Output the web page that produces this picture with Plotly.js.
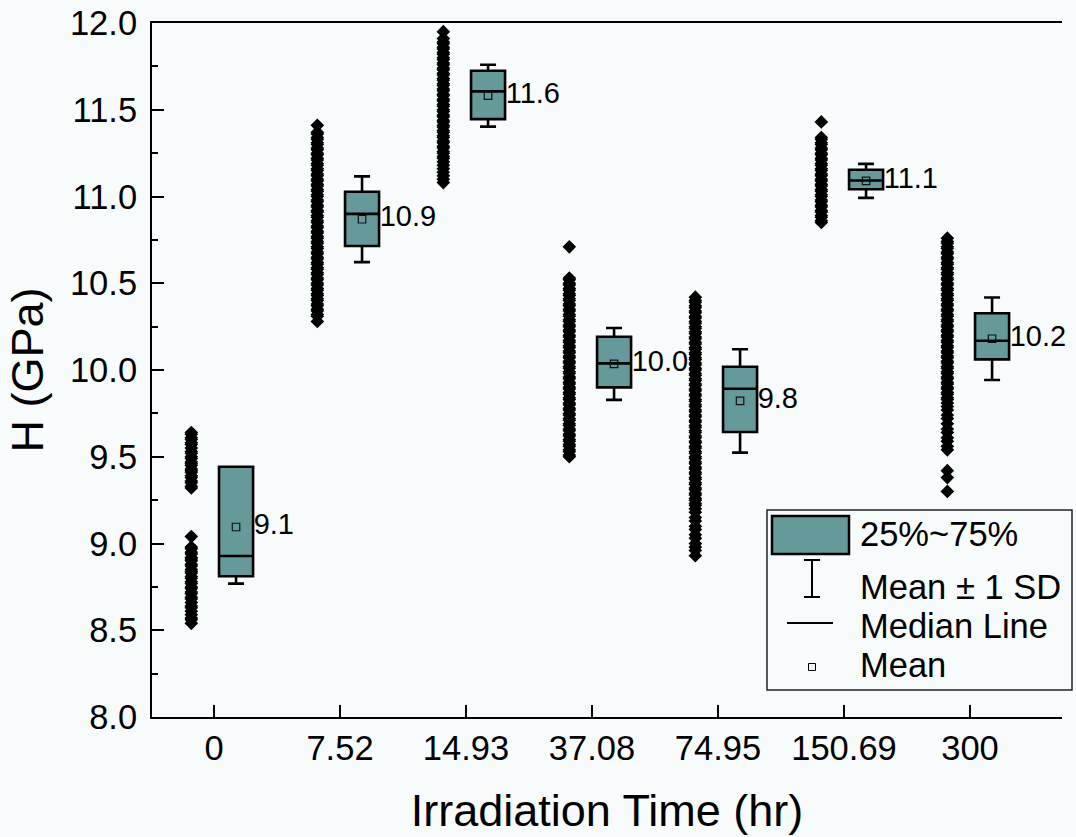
<!DOCTYPE html>
<html><head><meta charset="utf-8">
<script src="https://cdn.plot.ly/plotly-3.0.1.min.js"></script>
<style>html,body{margin:0;padding:0;background:#f8fbfc;overflow:hidden}</style>
</head><body><div id="chart" style="width:1076px;height:837px"></div>
<script>
// ---- data ----
const categories = ['0', '7.52', '14.93', '37.08', '74.95', '150.69', '300'];

const h0 = [9.64, 9.63, 9.61, 9.60, 9.58, 9.57, 9.55, 9.53, 9.52, 9.50, 9.49, 9.47, 9.46, 9.45, 9.43, 9.42, 9.41, 9.39, 9.38, 9.36, 9.35, 9.33, 9.32,
  9.04, 8.98, 8.97, 8.95, 8.94, 8.92, 8.91, 8.90, 8.88, 8.87, 8.85, 8.84, 8.83, 8.81, 8.80, 8.78, 8.77, 8.75, 8.74, 8.72, 8.71, 8.69, 8.68, 8.66, 8.64, 8.63, 8.61, 8.59, 8.57, 8.56, 8.54];
const h1 = [11.41, 11.37, 11.36, 11.34, 11.33, 11.31, 11.30, 11.28, 11.27, 11.25, 11.24, 11.22, 11.21, 11.19, 11.18, 11.16, 11.15, 11.13, 11.12, 11.10, 11.09, 11.07, 11.06, 11.04, 11.03, 11.01, 11.00, 10.98, 10.97, 10.95, 10.94, 10.92, 10.91, 10.89, 10.88, 10.86, 10.85, 10.83, 10.82, 10.80, 10.79, 10.77, 10.76, 10.74, 10.73, 10.71, 10.70, 10.68, 10.67, 10.65, 10.64, 10.62, 10.61, 10.59, 10.58, 10.56, 10.55, 10.53, 10.52, 10.50, 10.49, 10.47, 10.46, 10.44, 10.43, 10.41, 10.40, 10.38, 10.37, 10.35, 10.34, 10.32, 10.31, 10.28];
const h2 = [11.95, 11.91, 11.89, 11.88, 11.86, 11.85, 11.83, 11.82, 11.80, 11.79, 11.77, 11.76, 11.74, 11.73, 11.71, 11.70, 11.68, 11.67, 11.65, 11.64, 11.62, 11.61, 11.59, 11.58, 11.56, 11.55, 11.53, 11.52, 11.50, 11.49, 11.47, 11.46, 11.44, 11.43, 11.41, 11.40, 11.38, 11.37, 11.35, 11.34, 11.32, 11.31, 11.29, 11.28, 11.26, 11.25, 11.23, 11.22, 11.20, 11.18, 11.16, 11.14, 11.12, 11.10, 11.08];
const h3 = [10.71, 10.53, 10.52, 10.50, 10.49, 10.47, 10.46, 10.44, 10.43, 10.41, 10.40, 10.38, 10.37, 10.35, 10.34, 10.32, 10.31, 10.29, 10.28, 10.26, 10.25, 10.23, 10.22, 10.20, 10.19, 10.17, 10.16, 10.14, 10.13, 10.11, 10.10, 10.08, 10.07, 10.05, 10.04, 10.02, 10.01, 9.99, 9.98, 9.96, 9.95, 9.93, 9.92, 9.90, 9.89, 9.87, 9.86, 9.84, 9.83, 9.81, 9.80, 9.78, 9.77, 9.75, 9.74, 9.72, 9.71, 9.69, 9.68, 9.66, 9.65, 9.63, 9.62, 9.60, 9.59, 9.57, 9.56, 9.54, 9.53, 9.51, 9.50];
const h4 = [10.42, 10.40, 10.39, 10.37, 10.36, 10.34, 10.33, 10.31, 10.30, 10.28, 10.27, 10.25, 10.24, 10.22, 10.21, 10.19, 10.18, 10.16, 10.15, 10.13, 10.12, 10.10, 10.09, 10.07, 10.06, 10.04, 10.03, 10.01, 10.00, 9.98, 9.97, 9.95, 9.94, 9.92, 9.91, 9.89, 9.88, 9.86, 9.85, 9.83, 9.82, 9.80, 9.79, 9.77, 9.76, 9.74, 9.73, 9.71, 9.70, 9.68, 9.67, 9.65, 9.64, 9.62, 9.61, 9.59, 9.58, 9.56, 9.55, 9.53, 9.52, 9.50, 9.49, 9.47, 9.46, 9.44, 9.43, 9.41, 9.40, 9.38, 9.37, 9.35, 9.34, 9.32, 9.31, 9.29, 9.28, 9.26, 9.25, 9.23, 9.22, 9.20, 9.18, 9.15, 9.13, 9.10, 9.08, 9.05, 9.03, 9.00, 8.98, 8.96, 8.93];
const h5 = [11.43, 11.34, 11.33, 11.31, 11.30, 11.28, 11.27, 11.25, 11.24, 11.22, 11.21, 11.19, 11.18, 11.16, 11.15, 11.13, 11.12, 11.10, 11.09, 11.07, 11.06, 11.04, 11.03, 11.01, 11.00, 10.98, 10.97, 10.95, 10.94, 10.92, 10.91, 10.89, 10.88, 10.86, 10.85];
const h6 = [10.76, 10.74, 10.73, 10.71, 10.70, 10.68, 10.67, 10.65, 10.64, 10.62, 10.61, 10.59, 10.58, 10.56, 10.55, 10.53, 10.52, 10.50, 10.49, 10.47, 10.46, 10.44, 10.43, 10.41, 10.40, 10.38, 10.37, 10.35, 10.34, 10.32, 10.31, 10.29, 10.28, 10.26, 10.25, 10.23, 10.22, 10.20, 10.19, 10.17, 10.16, 10.14, 10.13, 10.11, 10.10, 10.08, 10.07, 10.05, 10.04, 10.02, 10.01, 9.99, 9.98, 9.96, 9.95, 9.93, 9.92, 9.90, 9.89, 9.87, 9.86, 9.84, 9.83, 9.81, 9.79, 9.77, 9.74, 9.72, 9.69, 9.66, 9.64, 9.61, 9.59, 9.56, 9.54, 9.42, 9.38, 9.30];

const q1 = [8.811, 10.715, 11.446, 9.900, 9.643, 11.042, 10.061];
const median = [8.928, 10.900, 11.606, 10.038, 9.892, 11.092, 10.169];
const q3 = [9.442, 11.027, 11.725, 10.192, 10.019, 11.154, 10.327];
const mean = [9.095, 10.869, 11.581, 10.035, 9.822, 11.090, 10.180];
const sd = [0.326, 0.247, 0.178, 0.207, 0.298, 0.098, 0.238];
const meanLabels = ['9.1', '10.9', '11.6', '10.0', '9.8', '11.1', '10.2'];

const legendLabels = ['25%~75%', 'Mean \u00b1 1 SD', 'Median Line', 'Mean'];

// ---- styling ----
const FONT = 'Liberation Sans, Arial, Helvetica, sans-serif';
const TEAL = '#669999';
const BG = '#f8fbfc';
const PT_OFF = -0.18, BOX_OFF = 0.175, BOX_W = 0.27, LABEL_OFF = 0.14;

const pointSets = [h0, h1, h2, h3, h4, h5, h6];
const idx = categories.map((c, i) => i);
const boxX = idx.map(i => i + BOX_OFF);

const traces = [];
// mean labels (drawn first so points overlay them)
traces.push({
  type: 'scatter', mode: 'text', cliponaxis: false,
  x: idx.map(i => i + BOX_OFF + LABEL_OFF), y: mean, text: meanLabels,
  textposition: 'middle right',
  textfont: {family: FONT, size: 29, color: '#000'},
  hoverinfo: 'skip', showlegend: false
});
pointSets.forEach((arr, i) => {
  traces.push({
    type: 'scatter', mode: 'markers',
    x: arr.map(() => i + PT_OFF), y: arr,
    marker: {symbol: 'diamond', size: 10.5, color: '#000', line: {width: 0}},
    hoverinfo: 'y', showlegend: false
  });
});
traces.push({
  type: 'box', x: boxX,
  q1: q1, median: median, q3: q3,
  lowerfence: mean.map((m, i) => m - sd[i]),
  upperfence: mean.map((m, i) => m + sd[i]),
  width: BOX_W, whiskerwidth: 0.47, boxpoints: false,
  fillcolor: TEAL, line: {color: '#000', width: 2.6},
  hoverinfo: 'skip', showlegend: false
});
traces.push({
  type: 'scatter', mode: 'markers', x: boxX, y: mean,
  marker: {symbol: 'square-open', size: 7.5, color: '#111', line: {width: 1.2, color: '#111'}},
  hoverinfo: 'y', showlegend: false
});

// ---- manual legend (layout coords in pixels -> paper) ----
const L = 152, R = 1062, T = 23, B = 717;
const px = X => (X - L) / (R - L);
const py = Y => (B - Y) / (B - T);

const shapes = [
  {type: 'rect', xref: 'paper', yref: 'paper', x0: px(767), x1: px(1072), y0: py(690), y1: py(510), line: {color: '#222', width: 1.5}, fillcolor: 'rgba(0,0,0,0)', layer: 'above'},
  {type: 'rect', xref: 'paper', yref: 'paper', x0: px(772), x1: px(849), y0: py(554), y1: py(516), line: {color: '#000', width: 2.5}, fillcolor: TEAL},
  {type: 'line', xref: 'paper', yref: 'paper', x0: px(812), x1: px(812), y0: py(597), y1: py(560), line: {color: '#000', width: 2}},
  {type: 'line', xref: 'paper', yref: 'paper', x0: px(804), x1: px(820), y0: py(560), y1: py(560), line: {color: '#000', width: 2}},
  {type: 'line', xref: 'paper', yref: 'paper', x0: px(804), x1: px(820), y0: py(597), y1: py(597), line: {color: '#000', width: 2}},
  {type: 'line', xref: 'paper', yref: 'paper', x0: px(787), x1: px(833), y0: py(623), y1: py(623), line: {color: '#000', width: 2.2}},
  {type: 'rect', xref: 'paper', yref: 'paper', x0: px(808.5), x1: px(815.5), y0: py(670.5), y1: py(663.5), line: {color: '#000', width: 1}, fillcolor: '#f2f2f2'}
];
const legendY = [534, 587, 626, 665];
const annotations = legendLabels.map((t, i) => ({
  xref: 'paper', yref: 'paper', x: px(858), y: py(legendY[i]),
  xanchor: 'left', yanchor: 'middle', showarrow: false, text: t,
  font: {family: FONT, size: 34.5, color: '#000'}
}));

const layout = {
  width: 1076, height: 837,
  margin: {l: L, r: 1076 - R, t: T, b: 837 - B},
  paper_bgcolor: BG, plot_bgcolor: BG,
  font: {family: FONT, color: '#000'},
  showlegend: false,
  xaxis: {
    range: [-0.492, 6.73], tickvals: idx, ticktext: categories,
    ticks: 'inside', ticklen: 12, tickwidth: 2, tickcolor: '#000',
    showline: true, linewidth: 2, linecolor: '#000', mirror: true,
    showgrid: false, zeroline: false,
    tickfont: {family: FONT, size: 34.5, color: '#000'},
    title: {text: 'Irradiation Time (hr)', font: {family: FONT, size: 45, color: '#000'}, standoff: 28}
  },
  yaxis: {
    range: [8, 12], tick0: 8, dtick: 0.5, tickformat: '.1f',
    ticks: 'inside', ticklen: 12, tickwidth: 2, tickcolor: '#000',
    minor: {dtick: 0.25, ticks: 'inside', ticklen: 6, tickwidth: 2, tickcolor: '#000'},
    showline: true, linewidth: 2, linecolor: '#000',
    showgrid: false, zeroline: false,
    tickfont: {family: FONT, size: 34.5, color: '#000'},
    ticklabelstandoff: 6,
    title: {text: 'H (GPa)', font: {family: FONT, size: 45, color: '#000'}, standoff: 12}
  },
  shapes: shapes,
  annotations: annotations
};

Plotly.newPlot('chart', traces, layout, {displayModeBar: false, staticPlot: true});
</script>
</body></html>
